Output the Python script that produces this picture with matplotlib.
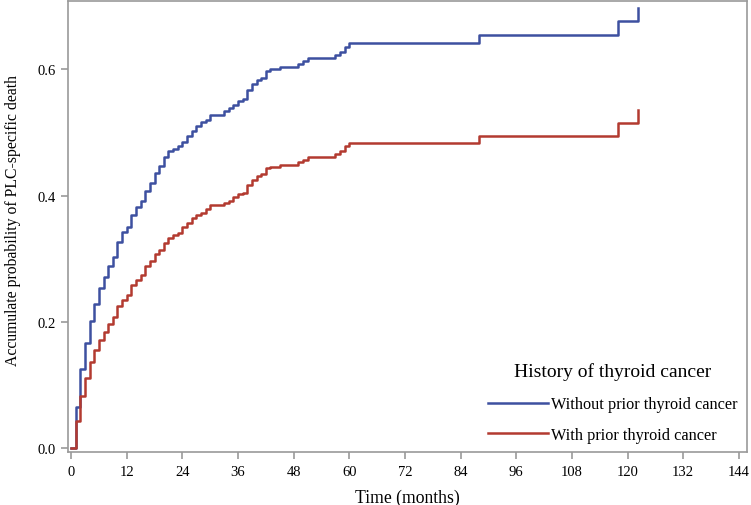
import numpy as np
import matplotlib
matplotlib.use("Agg")
import matplotlib.pyplot as plt

plt.rcParams['font.family'] = ['Liberation Serif', 'DejaVu Serif']

#Cumulative incidence (months, probability)
t_without = [0, 1, 2, 3, 4, 5, 6, 7, 8, 9, 10, 11, 12, 13, 14, 15, 16, 17, 18, 19, 20,
             21, 22, 23, 24, 25, 26, 27, 28, 29, 30, 33, 34, 35, 36, 37, 38, 39, 40, 41,
             42, 43, 45, 49, 50, 51, 57, 58, 59, 60, 88, 118, 122.3]
p_without = [0, 0.066, 0.126, 0.167, 0.202, 0.229, 0.254, 0.271, 0.289, 0.303, 0.327,
             0.343, 0.351, 0.370, 0.382, 0.392, 0.408, 0.420, 0.436, 0.447, 0.461,
             0.470, 0.474, 0.479, 0.485, 0.495, 0.503, 0.510, 0.517, 0.520, 0.528,
             0.534, 0.539, 0.544, 0.550, 0.553, 0.567, 0.577, 0.583, 0.586, 0.597,
             0.600, 0.604, 0.609, 0.613, 0.618, 0.623, 0.628, 0.635, 0.642, 0.655,
             0.676, 0.697]

t_with = t_without
p_with = [0, 0.043, 0.083, 0.111, 0.136, 0.155, 0.171, 0.184, 0.196, 0.207, 0.225,
          0.235, 0.242, 0.258, 0.267, 0.275, 0.288, 0.296, 0.307, 0.314, 0.325,
          0.333, 0.337, 0.341, 0.350, 0.357, 0.364, 0.370, 0.373, 0.379, 0.385,
          0.389, 0.392, 0.397, 0.402, 0.404, 0.416, 0.425, 0.431, 0.434, 0.443,
          0.446, 0.449, 0.453, 0.457, 0.461, 0.466, 0.471, 0.478, 0.483, 0.495,
          0.515, 0.536]

x_ticks = list(range(0, 145, 12))
y_ticks = [0.0, 0.2, 0.4, 0.6]

blue = '#3d50a0'
red = '#b33a30'
frame = '#999999'

fig = plt.figure(figsize=(7.51, 5.06), dpi=100)
ax = fig.add_axes([0.0909, 0.1047, 0.9034, 0.892])

ax.plot(t_without, p_without, drawstyle='steps-post', color=blue, lw=1.8,
        label='Without prior thyroid cancer')
ax.plot(t_with, p_with, drawstyle='steps-post', color=red, lw=1.8,
        label='With prior thyroid cancer')

ax.set_xlim(-0.6, 145.7)
ax.set_ylim(-0.006, 0.7086)
ax.set_xticks(x_ticks)
ax.set_yticks(y_ticks)
ax.set_yticklabels([f'{v:.1f}' for v in y_ticks])

for s in ax.spines.values():
    s.set_color(frame)
    s.set_linewidth(1.2)
ax.tick_params(colors=frame, labelcolor='black', labelsize=10.5, length=5, width=1.2, pad=4)

ax.set_xlabel('Time (months)', fontsize=12.7, labelpad=8)
ax.set_ylabel('Accumulate probability of PLC-specific death', fontsize=11.3)
ax.yaxis.set_label_coords(-0.069, 0.515)

leg = ax.legend(title='History of thyroid cancer', loc='lower right', frameon=False,
                fontsize=11.7, title_fontsize=14, handlelength=3.7, handletextpad=0.2,
                labelspacing=0.9, borderaxespad=0.15, bbox_to_anchor=(1.0, 0.0))
leg._legend_box.sep = 12

fig.savefig('out.png', dpi=100)
